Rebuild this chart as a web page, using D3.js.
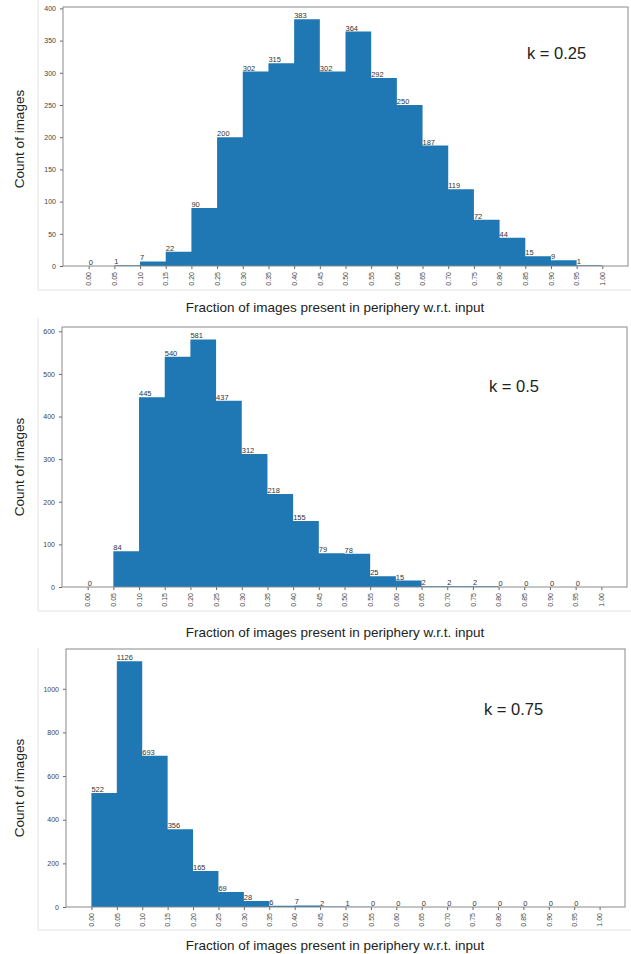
<!DOCTYPE html>
<html>
<head>
<meta charset="utf-8">
<script src="https://cdn.jsdelivr.net/npm/d3@7"></script>
<style>
  body { margin: 0; background: #fff; }
  svg { display: block; font-family: "Liberation Sans", Arial, sans-serif; }
</style>
</head>
<body>
<svg id="chart" width="631" height="954"></svg>
<script>
// bin left edges / x tick values
const xTicks = [0.00, 0.05, 0.10, 0.15, 0.20, 0.25, 0.30, 0.35, 0.40, 0.45, 0.50,
                0.55, 0.60, 0.65, 0.70, 0.75, 0.80, 0.85, 0.90, 0.95, 1.00];

// counts per bin for each k
const countsK25 = [0, 1, 7, 22, 90, 200, 302, 315, 383, 302, 364, 292, 250, 187, 119, 72, 44, 15, 9, 1];
const countsK50 = [0, 84, 445, 540, 581, 437, 312, 218, 155, 79, 78, 25, 15, 2, 2, 2, 0, 0, 0, 0];
const countsK75 = [522, 1126, 693, 356, 165, 69, 28, 6, 7, 2, 1, 0, 0, 0, 0, 0, 0, 0, 0, 0];

const yTicksK25 = [0, 50, 100, 150, 200, 250, 300, 350, 400];
const yTicksK50 = [0, 100, 200, 300, 400, 500, 600];
const yTicksK75 = [0, 200, 400, 600, 800, 1000];

const kLabels = ['k = 0.25', 'k = 0.5', 'k = 0.75'];
const xTitle = 'Fraction of images present in periphery w.r.t. input';
const yTitle = 'Count of images';

const barColor = '#1f77b4';

// layout of each panel (pixels)
const panels = [
  { counts: countsK25, yTicks: yTicksK25, k: kLabels[0],
    left: 63, right: 628, top: 7, bottom: 266,
    kx: 527, ky: 59, yTitleY: 139, xTitleY: 312, boxTop: 0, boxBottom: 290 },
  { counts: countsK50, yTicks: yTicksK50, k: kLabels[1],
    left: 62, right: 627, top: 327, bottom: 587,
    kx: 489, ky: 392, yTitleY: 467, xTitleY: 637, boxTop: 318, boxBottom: 611 },
  { counts: countsK75, yTicks: yTicksK75, k: kLabels[2],
    left: 66, right: 625, top: 649, bottom: 907,
    kx: 484, ky: 715, yTitleY: 788, xTitleY: 950, boxTop: 648, boxBottom: 930 }
];

const svg = d3.select('#chart');

panels.forEach((p) => {
  const g = svg.append('g');

  // faint notebook output border
  g.append('path')
   .attr('d', `M38,${p.boxTop}V${p.boxBottom}H631`)
   .attr('fill', 'none')
   .attr('stroke', '#e2e2e2')
   .attr('stroke-width', 1);

  const x = d3.scaleLinear()
              .domain([-0.05, 1.05])
              .range([p.left, p.right]);
  const y = d3.scaleLinear()
              .domain([0, d3.max(p.counts) * 1.05])
              .range([p.bottom, p.top]);

  const bins = p.counts.map((c, i) => ({ x0: xTicks[i], count: c }));
  // closing point so the last bin gets its width
  const steps = bins.concat([{ x0: xTicks[xTicks.length - 1], count: p.counts[p.counts.length - 1] }]);

  // filled histogram as one stepped area, so no seams between bins
  const area = d3.area()
                 .curve(d3.curveStepAfter)
                 .x(d => x(d.x0))
                 .y0(y(0))
                 .y1(d => y(d.count));

  g.append('path')
   .datum(steps)
   .attr('d', area)
   .attr('fill', barColor);

  // axes
  const xAxis = g.append('g')
                 .attr('transform', `translate(0,${p.bottom})`)
                 .call(d3.axisBottom(x).tickValues(xTicks).tickFormat(d3.format('.2f')).tickSize(3));
  xAxis.select('.domain').remove();
  xAxis.selectAll('line').attr('stroke', '#666');
  xAxis.selectAll('text')
       .attr('transform', 'rotate(-90)')
       .attr('text-anchor', 'end')
       .attr('x', -6)
       .attr('y', 0)
       .attr('dy', '0.32em')
       .attr('font-size', 7)
       .attr('fill', '#444');

  const yAxis = g.append('g')
                 .attr('transform', `translate(${p.left},0)`)
                 .call(d3.axisLeft(y).tickValues(p.yTicks).tickFormat(d3.format('d')).tickSize(3).tickPadding(4));
  yAxis.select('.domain').remove();
  yAxis.selectAll('line').attr('stroke', '#666');
  yAxis.selectAll('text')
       .attr('font-size', 7)
       .attr('fill', '#444');

  // frame
  g.append('rect')
   .attr('x', p.left)
   .attr('y', p.top)
   .attr('width', p.right - p.left)
   .attr('height', p.bottom - p.top)
   .attr('fill', 'none')
   .attr('stroke', '#8a8a8a')
   .attr('stroke-width', 1);

  // value labels at bar left edges
  g.append('g').selectAll('text')
   .data(bins)
   .enter().append('text')
   .attr('x', d => x(d.x0))
   .attr('y', d => y(d.count) - 1)
   .attr('font-size', 7.5)
   .attr('fill', '#333')
   .text(d => d.count);

  // titles
  g.append('text')
   .attr('transform', `translate(19,${p.yTitleY}) rotate(-90)`)
   .attr('text-anchor', 'middle')
   .attr('dy', '0.35em')
   .attr('font-size', 13.5)
   .attr('fill', '#222')
   .text(yTitle);

  g.append('text')
   .attr('x', 335)
   .attr('y', p.xTitleY)
   .attr('text-anchor', 'middle')
   .attr('font-size', 13.5)
   .attr('fill', '#222')
   .text(xTitle);

  g.append('text')
   .attr('x', p.kx)
   .attr('y', p.ky)
   .attr('font-size', 16.5)
   .attr('fill', '#222')
   .text(p.k);
});
</script>
</body>
</html>
